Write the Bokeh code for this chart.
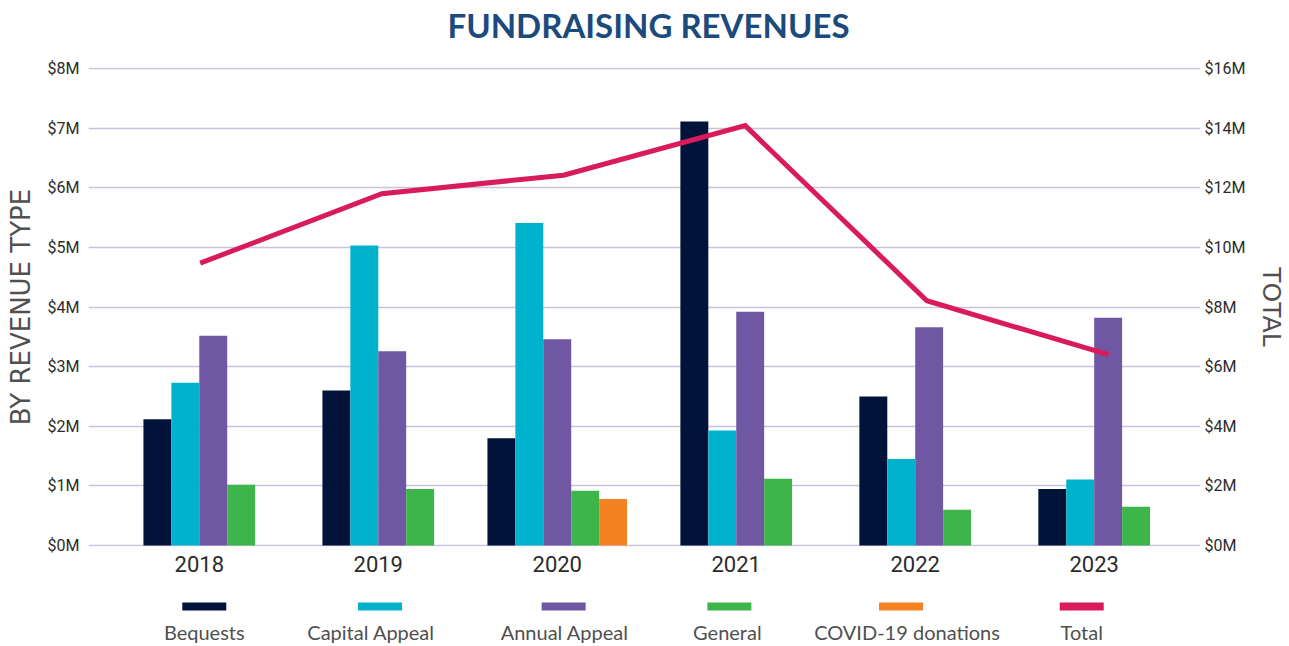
from bokeh.plotting import figure
from bokeh.models import Range1d, LinearAxis, FixedTicker, PrintfTickFormatter, ColumnDataSource
from bokeh.layouts import column
from bokeh.embed import file_html
from bokeh.resources import INLINE
from bokeh.core.properties import value

# ---------------- data (millions of dollars) ----------------
title_text = "FUNDRAISING REVENUES"
years = ["2018", "2019", "2020", "2021", "2022", "2023"]
series_names = ["Bequests", "Capital Appeal", "Annual Appeal", "General", "COVID-19 donations"]
bequests = [2.12, 2.60, 1.80, 7.11, 2.50, 0.95]
capital_appeal = [2.73, 5.03, 5.41, 1.93, 1.45, 1.11]
annual_appeal = [3.52, 3.26, 3.46, 3.92, 3.66, 3.82]
general = [1.02, 0.95, 0.92, 1.12, 0.60, 0.65]
covid_donations = [None, None, 0.78, None, None, None]
total = [9.47, 11.80, 12.42, 14.08, 8.21, 6.40]
left_ticks = [0, 1, 2, 3, 4, 5, 6, 7, 8]
right_ticks = [0, 2, 4, 6, 8, 10, 12, 14, 16]
legend_labels = ["Bequests", "Capital Appeal", "Annual Appeal", "General", "COVID-19 donations", "Total"]

# ---------------- styles / layout ----------------
series_colors = ["#011338", "#00B2CC", "#6F57A3", "#3DB54A", "#F48221"]
total_color = "#D91B5C"
grid_color = "#C9C1E0"
text_dark = "#2B2B2B"
label_grey = "#505050"
W, H_TITLE, H_MAIN, H_LEG = 1289, 57, 533, 56
BL, BR = 88, 87
BAR_W = 0.156
LINE_SCALE, LINE_SHIFT = 1.015, 0.005
PAD = 0.015  # keeps the edge grid lines fully visible
TITLE_PX = 649
LEG_SWATCH_PX = [204, 380, 564, 730, 902, 1083]
LEG_TEXT_PX = [204, 371, 565, 728, 908, 1083]

all_series = [bequests, capital_appeal, annual_appeal, general, covid_donations]


def strip(height):
    # frame spans the same pixels as the main chart frame; x range is in page pixels
    f = figure(width=W, height=height, x_range=Range1d(BL, W - BR), y_range=Range1d(height, 0),
               output_backend="svg", toolbar_location=None,
               x_axis_location=None, y_axis_location=None,
               min_border_left=BL, min_border_right=BR, min_border_top=0, min_border_bottom=0)
    f.outline_line_color = None
    f.grid.grid_line_color = None
    return f


# ---------------- main chart ----------------
p = figure(width=W, height=H_MAIN, x_range=Range1d(-0.619, 5.594),
           y_range=Range1d(left_ticks[0] - PAD, left_ticks[-1] + PAD),
           output_backend="svg", toolbar_location=None,
           min_border_left=BL, min_border_right=BR, min_border_top=10, min_border_bottom=44)
p.outline_line_color = None

p.xgrid.grid_line_color = None
p.ygrid.ticker = FixedTicker(ticks=left_ticks)
p.ygrid.grid_line_color = grid_color
p.ygrid.grid_line_width = 1.6

# bars: series present in a year are packed side by side around the year centre
for k, vals in enumerate(all_series):
    xs, tops = [], []
    for i in range(len(years)):
        present = [kk for kk in range(len(all_series)) if all_series[kk][i] is not None]
        if vals[i] is None:
            continue
        j = present.index(k)
        n = len(present)
        xs.append(i + (j - (n - 1) / 2) * BAR_W)
        tops.append(vals[i])
    src = ColumnDataSource(dict(x=xs, top=tops))
    p.vbar(x="x", top="top", bottom=0, width=BAR_W, source=src,
           fill_color=series_colors[k], line_color=None)

# total line on right axis
p.extra_y_ranges = {"total": Range1d(right_ticks[0] - 2 * PAD, right_ticks[-1] + 2 * PAD)}
p.line(x=[i * LINE_SCALE + LINE_SHIFT for i in range(len(years))], y=total, y_range_name="total",
       line_color=total_color, line_width=5, line_join="miter")


def style_axis(a):
    a.axis_line_color = None
    a.major_tick_line_color = None
    a.minor_tick_line_color = None
    a.major_tick_out = 0
    a.major_tick_in = 0
    a.minor_tick_out = 0
    a.minor_tick_in = 0
    a.major_label_text_font = "Roboto"
    a.major_label_text_color = text_dark


ax = p.xaxis[0]
style_axis(ax)
ax.ticker = FixedTicker(ticks=list(range(len(years))))
ax.major_label_overrides = {i: y for i, y in enumerate(years)}
ax.major_label_standoff = 9
ax.major_label_text_font_size = "22px"

ly = p.yaxis[0]
style_axis(ly)
ly.ticker = FixedTicker(ticks=left_ticks)
ly.formatter = PrintfTickFormatter(format="$%dM")
ly.major_label_standoff = 9
ly.major_label_text_font_size = "16px"
ly.axis_label = "BY REVENUE TYPE"
ly.axis_label_text_font = "DejaVu Sans"
ly.axis_label_text_font_style = "normal"
ly.axis_label_text_font_size = "26px"
ly.axis_label_text_color = label_grey
ly.axis_label_standoff = 9

ry = LinearAxis(y_range_name="total")
style_axis(ry)
ry.ticker = FixedTicker(ticks=right_ticks)
ry.formatter = PrintfTickFormatter(format="$%dM")
ry.major_label_standoff = 4
ry.major_label_text_font_size = "16px"
ry.axis_label = "TOTAL"
ry.axis_label_text_font = "DejaVu Sans"
ry.axis_label_text_font_style = "normal"
ry.axis_label_text_font_size = "25px"
ry.axis_label_text_color = label_grey
ry.axis_label_standoff = 9
p.add_layout(ry, "right")

# ---------------- title strip ----------------
tf = strip(H_TITLE)
tf.text(x=[TITLE_PX], y=[24], text=[title_text], text_align="center", text_baseline="middle",
        text_font=value("Lato"), text_font_style="bold", text_font_size="33px", text_color="#1B4A7C")

# ---------------- legend strip (swatch above label) ----------------
lf = strip(H_LEG)
lf.rect(x=LEG_SWATCH_PX, y=[16] * len(legend_labels), width=44, height=8,
        width_units="screen", height_units="screen",
        fill_color=series_colors + [total_color], line_color=None)
lf.text(x=LEG_TEXT_PX, y=[41] * len(legend_labels), text=legend_labels,
        text_align="center", text_baseline="middle",
        text_font=value("Lato"), text_font_size="20px", text_color=label_grey)

layout = column(tf, p, lf, spacing=0)
open("out.html", "w").write(file_html(layout, INLINE))
